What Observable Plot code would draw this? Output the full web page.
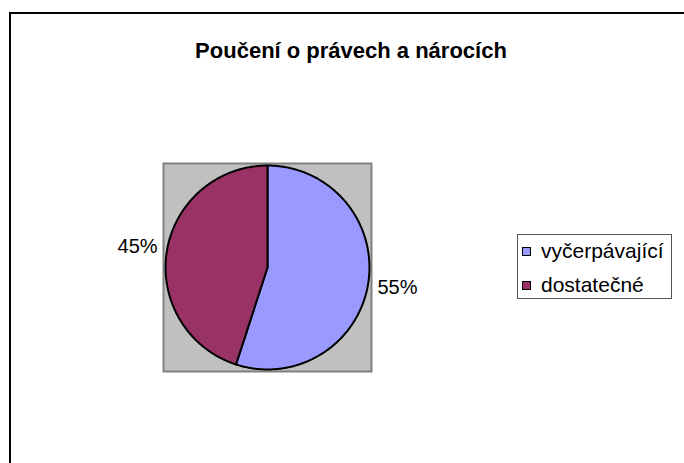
<!DOCTYPE html>
<html>
<head>
<meta charset="utf-8">
<script src="https://cdn.jsdelivr.net/npm/d3@7"></script>
<script src="https://cdn.jsdelivr.net/npm/@observablehq/plot@0.6"></script>
<style>
  html, body { margin: 0; padding: 0; background: #fff; }
  #wrap { position: relative; width: 684px; height: 463px; overflow: hidden; font-family: "Liberation Sans", Arial, sans-serif; }
  #frame { position: absolute; left: 9px; top: 12px; width: 800px; height: 600px; border: 2px solid #000; box-sizing: border-box; }
  #chart { position: absolute; left: 0; top: 0; }
  #title { position: absolute; left: 0; width: 702px; top: 40px; text-align: center; font-weight: bold; font-size: 22px; line-height: 22px; color: #000; }
  #legend { position: absolute; left: 517px; top: 234px; width: 155px; height: 65px; border: 1px solid #555; box-sizing: border-box; background: #fff; }
  .item { position: absolute; left: 0; height: 21px; width: 152px; }
  .sw { position: absolute; left: 4px; width: 7px; height: 7px; border: 1px solid #000; box-sizing: content-box; }
  .lab { position: absolute; left: 23px; top: 0; font-size: 21px; line-height: 21px; white-space: nowrap; color: #000; }
</style>
</head>
<body>
<div id="wrap">
  <div id="frame"></div>
  <div id="chart"></div>
  <div id="title"></div>
  <div id="legend"></div>
</div>
<script>
const title = "Poučení o právech a nárocích";
const categories = ["vyčerpávající", "dostatečné"];
const values = [55, 45];
const colors = ["#9999FF", "#993366"];
const labels = ["55%", "45%"];

document.getElementById("title").textContent = title;

const arcs = d3.pie().sort(null)(values);

// slice outlines in data units (radius 1, y up, angles clockwise from top)
const slices = arcs.map((a) => {
  const pts = [{x: 0, y: 0}];
  const n = Math.max(2, Math.ceil((a.endAngle - a.startAngle) / 0.01));
  for (let k = 0; k <= n; k++) {
    const t = a.startAngle + (a.endAngle - a.startAngle) * k / n;
    pts.push({x: Math.sin(t), y: Math.cos(t)});
  }
  pts.push({x: 0, y: 0});
  return pts;
});

const labelData = arcs.map((a, i) => {
  const m = (a.startAngle + a.endAngle) / 2;
  return {x: 1.29 * Math.sin(m), y: 1.29 * Math.cos(m), text: labels[i]};
});

const chart = Plot.plot({
  width: 684,
  height: 463,
  marginLeft: 163,
  marginRight: 313,
  marginTop: 163,
  marginBottom: 92,
  x: {domain: [-1.02, 1.02], axis: null},
  y: {domain: [-1.02, 1.02], axis: null},
  style: {fontFamily: "'Liberation Sans', Arial, sans-serif", background: "transparent", overflow: "visible"},
  marks: [
    Plot.frame({fill: "#C0C0C0", stroke: "#808080", strokeWidth: 2}),
    ...slices.map((pts, i) => Plot.line(pts, {x: "x", y: "y", fill: colors[i], stroke: "#000", strokeWidth: 2, strokeLinejoin: "round", curve: "linear"})),
    Plot.text(labelData, {x: "x", y: "y", text: "text", fontSize: 20, fill: "#000", textAnchor: "middle"})
  ]
});
document.getElementById("chart").appendChild(chart);

const legend = document.getElementById("legend");
categories.forEach((c, i) => {
  const item = document.createElement("div");
  item.className = "item";
  item.style.top = (5 + i * 34) + "px";
  const sw = document.createElement("div");
  sw.className = "sw";
  sw.style.background = colors[i];
  sw.style.top = "7px";
  const lab = document.createElement("div");
  lab.className = "lab";
  lab.textContent = c;
  item.appendChild(sw);
  item.appendChild(lab);
  legend.appendChild(item);
});
</script>
</body>
</html>
